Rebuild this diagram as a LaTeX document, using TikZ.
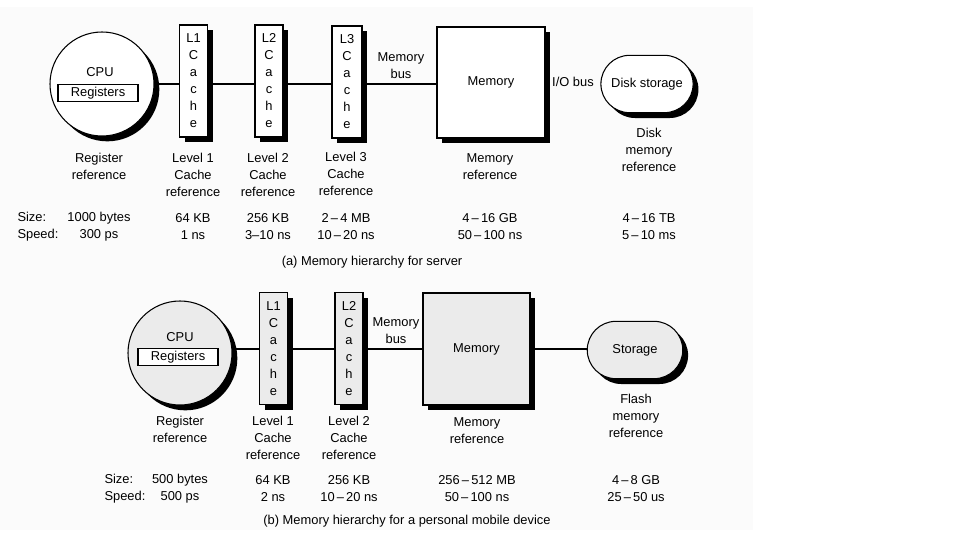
\documentclass[tikz,border=0pt]{standalone}
\usepackage{fontspec}
\setmainfont{Liberation Sans}
\usetikzlibrary{shapes.misc,shadows}

\begin{document}
\begin{tikzpicture}[x=0.03cm,y=-0.03cm,line width=0.9pt,
  font=\fontsize{11}{14.5}\selectfont,
  blackshade/.style={drop shadow={shadow xshift=0.16cm,shadow yshift=-0.16cm,fill=black,opacity=1}},
  cpu/.style={circle,draw,fill=white,minimum size=3.12cm,blackshade},
  cachebox/.style={rectangle,draw,fill=white,minimum width=0.84cm,minimum height=3.36cm,inner sep=1pt,align=center,blackshade},
  membox/.style={rectangle,draw,fill=white,minimum width=3.24cm,minimum height=3.33cm,blackshade},
  store/.style={rounded rectangle,draw,fill=white,minimum width=3cm,minimum height=1.72cm,blackshade},
  regbox/.style={rectangle,draw,fill=white,minimum width=2.4cm,minimum height=0.52cm,inner sep=1pt},
  dotted fill/.style={fill=gray!16},
  lbl/.style={align=center,inner sep=0pt}]
  \useasboundingbox (0,0) rectangle (957,536);
  \fill[gray!3] (0,7) rectangle (753,530);

  % (a) server
  \node[cpu] (cpuA) at (102,84) {};
  \node (cpuTxtA) at (100,72) {CPU};
  \node[regbox] (regA) at (98,93) {Registers};
  \node[cachebox] (l1A) at (193.5,81) {L1\\C\\a\\c\\h\\e};
  \node[cachebox] (l2A) at (269,81) {L2\\C\\a\\c\\h\\e};
  \node[cachebox,minimum width=0.9cm] (l3A) at (347,82) {L3\\C\\a\\c\\h\\e};
  \node[membox] (memA) at (491,82.5) {Memory};
  \node[store] (diskA) at (647,84) {Disk storage};
  \draw (cpuA.east) -- (cpuA.east -| l1A.west);
  \draw (l1A.east |- cpuA.east) -- (l2A.west |- cpuA.east);
  \draw (l2A.east |- cpuA.east) -- (l3A.west |- cpuA.east);
  \draw (l3A.east |- cpuA.east) -- (memA.west |- cpuA.east);
  \node[lbl] (busA) at (401,66) {Memory\\bus};
  \node[lbl] (ioA) at (573,82) {I/O bus};

  \node[lbl] (refRA) at (99,166.5) {Register\\reference};
  \node[lbl] (ref1A) at (193,175) {Level 1\\Cache\\reference};
  \node[lbl] (ref2A) at (268,175) {Level 2\\Cache\\reference};
  \node[lbl] (ref3A) at (346,174) {Level 3\\Cache\\reference};
  \node[lbl] (refMA) at (490,166.5) {Memory\\reference};
  \node[lbl] (refDA) at (649,150) {Disk\\memory\\reference};

  \node[lbl,align=left,anchor=west] (keyA) at (17,226.5) {Size:\\Speed:};
  \node[lbl] (valRA) at (99,226.5) {1000 bytes\\300 ps};
  \node[lbl] (val1A) at (193,226.5) {64 KB\\1 ns};
  \node[lbl] (val2A) at (268,226.5) {256 KB\\3--10 ns};
  \node[lbl] (val3A) at (346,226.5) {2\,--\,4 MB\\10\,--\,20 ns};
  \node[lbl] (valMA) at (490,226.5) {4\,--\,16 GB\\50\,--\,100 ns};
  \node[lbl] (valDA) at (649,226.5) {4\,--\,16 TB\\5\,--\,10 ms};
  \node[lbl] (capA) at (372,262) {(a) Memory hierarchy for server};

  % (b) personal mobile device
  \node[cpu,dotted fill] (cpuB) at (180,353) {};
  \node (cpuTxtB) at (180,337) {CPU};
  \node[regbox] (regB) at (178,357) {Registers};
  \node[cachebox,dotted fill] (l1B) at (273.5,348.5) {L1\\C\\a\\c\\h\\e};
  \node[cachebox,dotted fill] (l2B) at (349,348.5) {L2\\C\\a\\c\\h\\e};
  \node[membox,dotted fill,minimum width=3.21cm,minimum height=3.36cm] (memB) at (476.5,349) {Memory};
  \node[store,dotted fill,minimum width=3.1cm] (storB) at (635,350) {Storage};
  \draw (cpuB.east |- memB.west) -- (l1B.west |- memB.west);
  \draw (l1B.east |- memB.west) -- (l2B.west |- memB.west);
  \draw (l2B.east |- memB.west) -- (memB.west);
  \draw (memB.east) -- (memB.east -| storB.west);
  \node[lbl] (busB) at (396,330.5) {Memory\\bus};

  \node[lbl] (refRB) at (180,429) {Register\\reference};
  \node[lbl] (ref1B) at (273,437.5) {Level 1\\Cache\\reference};
  \node[lbl] (ref2B) at (349,437.5) {Level 2\\Cache\\reference};
  \node[lbl] (refMB) at (477,431) {Memory\\reference};
  \node[lbl] (refSB) at (636,415.5) {Flash\\memory\\reference};

  \node[lbl,align=left,anchor=west] (keyB) at (104,489) {Size:\\Speed:};
  \node[lbl] (valRB) at (180,489) {500 bytes\\500 ps};
  \node[lbl] (val1B) at (273,489) {64 KB\\2 ns};
  \node[lbl] (val2B) at (349,489) {256 KB\\10\,--\,20 ns};
  \node[lbl] (valMB) at (477,489) {256\,--\,512 MB\\50\,--\,100 ns};
  \node[lbl] (valSB) at (636,489) {4\,--\,8 GB\\25\,--\,50 us};
  \node[lbl] (capB) at (407,521) {(b) Memory hierarchy for a personal mobile device};
\end{tikzpicture}
\end{document}
